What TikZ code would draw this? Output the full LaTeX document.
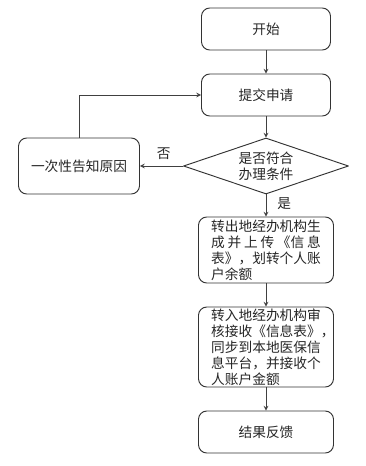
\documentclass[tikz,border=0pt]{standalone}
\usepackage{fontspec}
\newfontfamily\cjk{Noto Sans CJK SC}
\usetikzlibrary{shapes.geometric}
\begin{document}
\begin{tikzpicture}[x=.03cm, y=-.03cm, font=\cjk\fontsize{11.7}{13.6}\selectfont, line cap=round, line join=round, >=stealth,
  box/.style={draw=black!80, thick, rounded corners=.25cm, text=black!85, align=center, inner sep=2pt},
  cond/.style={draw=black!80, thick, diamond, aspect=3, inner sep=0pt, text=black!85, align=center, minimum width=4.95cm, minimum height=1.68cm},
  flow/.style={->, draw=black!75, thick}]
\useasboundingbox (0,0) rectangle (366,466);
\def\w{3.87cm}
\def\W{4.05cm}
\node[box, minimum width=\w, minimum height=1.26cm] (start) at (266,29) {开始};
\node[box, minimum width=\w, minimum height=1.26cm] (submit) at (266,95) {提交申请};
\node[cond] (check) at (266,166) {是否符合\\办理条件};
\node[box, minimum width=3.63cm, minimum height=1.68cm] (notify) at (79,166) {一次性告知原因};
\node[box, minimum width=\W, minimum height=1.98cm, align=left] (out) at (266,250)
  {转出地经办机构生\\\makebox[8em][s]{成 并 上 传 《信 息}\\表》，划转个人账\\户余额};
\node[box, minimum width=\W, minimum height=2.4cm, align=left, inner sep=0pt] (in) at (266,347)
  {转入地经办机构审\\核接收《信息表》\rlap{，}\\同步到本地医保信\\息平台，并接收个\\人账户金额};
\node[box, minimum width=\W, minimum height=1.26cm] (result) at (266,432) {结果反馈};
% connectors
\draw[flow] (start)--(submit);
\draw[flow] (submit)--(check);
\draw[flow] (check)--(notify) node[pos=.45, above=2pt, text=black!85]{否};
\draw[flow] (notify.north)|-(submit.west);
\draw[flow] (check)--(out) node[pos=.4, right=6pt, text=black!85]{是};
\draw[flow] (out)--(in);
\draw[flow] (in)--(result);
\end{tikzpicture}
\end{document}
